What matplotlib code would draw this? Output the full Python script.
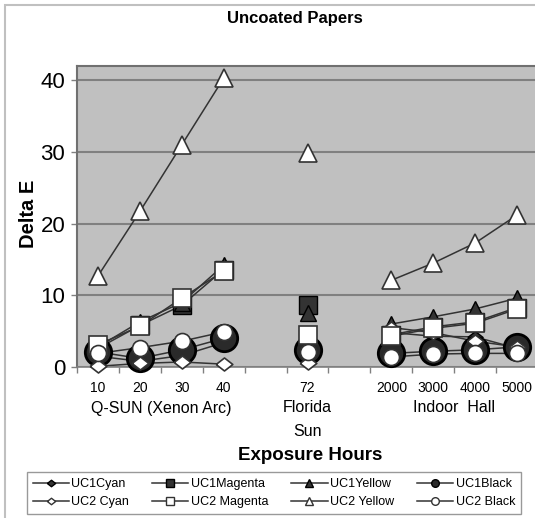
import numpy as np
import matplotlib
matplotlib.use("Agg")
import matplotlib.pyplot as plt
from matplotlib.lines import Line2D
from matplotlib.patches import Rectangle
from matplotlib.transforms import blended_transform_factory

plt.rcParams['font.family'] = ['Liberation Sans', 'DejaVu Sans']

nan = np.nan
categories = ['10', '20', '30', '40', '', '72', '', '2000', '3000', '4000', '5000']
group_labels = ['Q-SUN (Xenon Arc)', 'Florida', 'Indoor  Hall']
group_sub = 'Sun'

uc1_cyan    = [1.5, 0.8, 1.6, 3.4, nan, 1.8, nan, 4.8, 4.3, 4.2, 2.6]
uc1_magenta = [2.6, 5.8, 8.6, 13.6, nan, 8.7, nan, 4.5, 5.6, 6.3, 8.3]
uc1_yellow  = [2.8, 6.3, 9.0, 14.2, nan, 7.5, nan, 6.0, 7.0, 8.1, 9.6]
uc1_black   = [2.1, 1.2, 2.4, 4.0, nan, 2.4, nan, 1.9, 2.2, 2.4, 2.8]
uc2_cyan    = [0.1, 0.5, 0.7, 0.4, nan, 0.5, nan, 5.5, 4.8, 3.6, 2.8]
uc2_magenta = [3.1, 5.7, 9.6, 13.4, nan, 4.5, nan, 4.3, 5.4, 6.1, 8.1]
uc2_yellow  = [12.7, 21.7, 31.0, 40.3, nan, 29.8, nan, 12.1, 14.5, 17.3, 21.2]
uc2_black   = [1.9, 2.7, 3.6, 4.9, nan, 2.1, nan, 1.4, 1.8, 1.9, 1.9]

series_names = ['UC1Cyan', 'UC1Magenta', 'UC1Yellow', 'UC1Black',
                'UC2 Cyan', 'UC2 Magenta', 'UC2 Yellow', 'UC2 Black']
series_vals = [uc1_cyan, uc1_magenta, uc1_yellow, uc1_black,
               uc2_cyan, uc2_magenta, uc2_yellow, uc2_black]

diamond = [(-1, 0), (0, 0.78), (1, 0), (0, -0.78), (-1, 0)]
DARK = '#333333'
styles = [
    dict(marker=diamond, ms=11, mfc=DARK, mec='#000000', mew=1.0),
    dict(marker='s', ms=12.5, mfc=DARK, mec='#000000', mew=1.0),
    dict(marker='^', ms=12, mfc=DARK, mec='#000000', mew=1.0),
    dict(marker='o', ms=19, mfc='#2a2a2a', mec='#000000', mew=2.0),
    dict(marker=diamond, ms=12, mfc='white', mec=DARK, mew=1.2),
    dict(marker='s', ms=12.5, mfc='white', mec=DARK, mew=1.2),
    dict(marker='^', ms=13, mfc='white', mec=DARK, mew=1.2),
    dict(marker='o', ms=11.5, mfc='white', mec=DARK, mew=1.2),
]

W, H = 535, 518
fig = plt.figure(figsize=(W / 100, H / 100), dpi=100)
ax = fig.add_axes([77 / W, 151 / H, 461 / W, 301 / H])
ax.set_facecolor('#c0c0c0')

x = np.arange(len(categories))
for i, (vals, st) in enumerate(zip(series_vals, styles)):
    ax.plot(x, vals, color=DARK, lw=1.1, zorder=2, clip_on=False)
for i, (vals, st) in enumerate(zip(series_vals, styles)):
    ax.plot(x, vals, ls='none', zorder=3 + i, clip_on=False, **st)

ax.set_xlim(-0.5, 10.5)
ax.set_ylim(0, 42)
ax.set_yticks([0, 10, 20, 30, 40])
ax.yaxis.grid(True, color='#808080', lw=1.5)
ax.set_axisbelow(True)
ax.tick_params(axis='y', labelsize=16, length=4.5, width=1.0, color='#808080', pad=4)

ax.set_xticks(x)
ax.set_xticklabels(categories, fontsize=10)
ax.set_xticks(np.arange(-0.5, 11, 1), minor=True)
ax.tick_params(axis='x', which='major', length=0, pad=10)
ax.tick_params(axis='x', which='minor', length=4, width=1.0, color='#808080', direction='out')

for s in ['top', 'left']:
    ax.spines[s].set_color('#707070')
    ax.spines[s].set_linewidth(1.5)
ax.spines['bottom'].set_color('#808080')
ax.spines['bottom'].set_linewidth(1.2)
ax.spines['right'].set_visible(False)

tr = blended_transform_factory(ax.transData, fig.transFigure)
ax.text(1.5, 1 - 408 / H, group_labels[0], transform=tr, ha='center', va='center', fontsize=11.5)
ax.text(5, 1 - 408 / H, group_labels[1], transform=tr, ha='center', va='center', fontsize=11.5)
ax.text(5, 1 - 431 / H, group_sub, transform=tr, ha='center', va='center', fontsize=11.5)
ax.text(8.5, 1 - 408 / H, group_labels[2], transform=tr, ha='center', va='center', fontsize=11.5)

fig.text(295 / W, 1 - 18 / H, 'Uncoated Papers', ha='center', va='center', fontsize=12, fontweight='bold')
fig.text(310 / W, 1 - 456 / H, 'Exposure Hours', ha='center', va='center', fontsize=13.5, fontweight='bold')
fig.text(28 / W, 1 - 214 / H, 'Delta E', ha='center', va='center', fontsize=14.5, fontweight='bold', rotation=90)

# legend
handles = []
for st in styles:
    handles.append(Line2D([0], [0], color=DARK, lw=1.1, marker=st['marker'],
                          ms=5.5 if st['marker'] != diamond else 6,
                          mfc=st['mfc'], mec='#000000' if st['mfc'] != 'white' else DARK, mew=1.0))
order = [0, 4, 1, 5, 2, 6, 3, 7]
leg = fig.legend([handles[i] for i in order], [series_names[i] for i in order],
                 loc='center', bbox_to_anchor=(27 / W, 5 / H, (521 - 27) / W, 40 / H),
                 mode='expand', ncol=4, fontsize=9, frameon=True, fancybox=False,
                 edgecolor='#808080', handlelength=2.9, handletextpad=0.2,
                 borderaxespad=0, labelspacing=0.5, borderpad=0.45, columnspacing=1.0)
leg.get_frame().set_linewidth(1.0)

fig.patches.append(Rectangle((5 / W, -20 / H), 560 / W, (518 - 5 + 20) / H,
                             transform=fig.transFigure, fill=False,
                             edgecolor='#c0c0c0', lw=1.5))

fig.savefig('out.png', dpi=100)
